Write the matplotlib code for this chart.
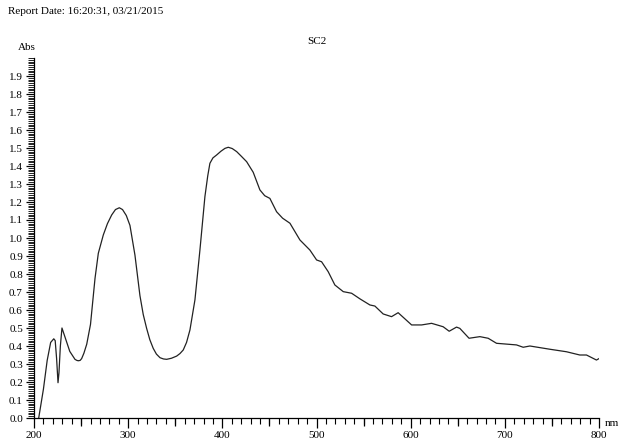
import matplotlib
matplotlib.use("Agg")
import matplotlib.pyplot as plt
from matplotlib.ticker import MultipleLocator, FormatStrFormatter

plt.rcParams['font.family'] = ['Liberation Serif', 'DejaVu Serif']

# spectrum (wavelength in nm, absorbance)
wavelength = [205, 210, 214, 217.7, 221, 222.5, 224, 225.5, 226.5, 228, 229.7,
              232.9, 238, 243.5, 245.5, 247, 249, 250.6, 253, 256, 260, 264.8,
              268.3, 273.6, 278, 282.5, 286.5, 290.6, 294, 298, 301.9, 307.2,
              312.5, 316, 319.6, 323, 326.6, 330, 333.8, 337.5, 340.9, 346,
              351.5, 355, 358.5, 362, 365.6, 370.9, 376.2, 381.5, 384.5, 386.8,
              390, 393.9, 398.5, 402.8, 406.3, 410.5, 415.2, 420, 425.8, 432.8,
              439.9, 445, 450.5, 457.6, 464, 471.8, 482.4, 493, 500.1, 505.4,
              512.4, 519.5, 528.4, 537.3, 546.1, 556.7, 562, 570.8, 579.7,
              586.7, 601, 611.6, 622.2, 634.5, 640.9, 648.7, 652.2, 662, 673.5,
              682.3, 691.2, 712.4, 719.5, 726.6, 747.8, 765.5, 779.6, 786.7,
              797.3, 800]
absorbance = [0.0, 0.16, 0.32, 0.42, 0.44, 0.43, 0.33, 0.196, 0.25, 0.40, 0.50,
              0.45, 0.37, 0.326, 0.32, 0.318, 0.32, 0.33, 0.36, 0.41, 0.52,
              0.776, 0.915, 1.017, 1.08, 1.128, 1.158, 1.168, 1.158, 1.125,
              1.07, 0.905, 0.68, 0.575, 0.498, 0.435, 0.387, 0.355, 0.335,
              0.328, 0.326, 0.332, 0.344, 0.358, 0.378, 0.42, 0.489, 0.656,
              0.933, 1.23, 1.345, 1.415, 1.445, 1.461, 1.482, 1.498, 1.504,
              1.497, 1.48, 1.455, 1.424, 1.365, 1.267, 1.235, 1.22, 1.146, 1.11,
              1.082, 0.989, 0.933, 0.878, 0.868, 0.813, 0.739, 0.702, 0.693,
              0.662, 0.628, 0.622, 0.578, 0.563, 0.585, 0.517, 0.517, 0.526,
              0.507, 0.482, 0.505, 0.498, 0.443, 0.452, 0.443, 0.415, 0.406,
              0.393, 0.4, 0.382, 0.368, 0.35, 0.35, 0.322, 0.33]

report_text = "Report Date: 16:20:31, 03/21/2015"
sample_name = "SC2"

fig = plt.figure(figsize=(6.36, 4.46), dpi=100)
ax = fig.add_axes([34 / 636, 28 / 446, 565 / 636, 360 / 446])

ax.plot(wavelength, absorbance, color='#222222', linewidth=0.9,
        solid_joinstyle='round')

ax.set_xlim(200, 800)
ax.set_ylim(0, 2.0)
ax.spines['top'].set_visible(False)
ax.spines['right'].set_visible(False)
ax.spines['left'].set_linewidth(0.9)
ax.spines['bottom'].set_linewidth(0.9)

ax.xaxis.set_major_locator(MultipleLocator(100))
ax.xaxis.set_minor_locator(MultipleLocator(10))
ax.yaxis.set_minor_locator(MultipleLocator(0.01))
ax.set_yticks([i / 10 for i in range(20)])
ax.yaxis.set_major_formatter(FormatStrFormatter('%.1f'))

ax.tick_params(axis='both', which='major', direction='out', labelsize=8,
               width=0.9, pad=2)
ax.tick_params(axis='x', which='major', length=7)
ax.tick_params(axis='x', which='minor', length=4, width=0.8)
ax.tick_params(axis='y', which='major', length=6)
ax.tick_params(axis='y', which='minor', length=4, width=0.6)

# medium ticks at the 50s
sec = ax.secondary_xaxis('bottom')
sec.set_xticks([250, 350, 450, 550, 650, 750])
sec.tick_params(length=5.5, width=0.9, labelbottom=False)
sec.spines['bottom'].set_visible(False)

fig.text(8 / 636, 1 - 12 / 446, report_text, fontsize=8, va='center', ha='left')
ax.set_title(sample_name, fontsize=8, pad=10)
fig.text(27 / 636, 1 - 48 / 446, "Abs", fontsize=8, va='center', ha='center')
fig.text(605 / 636, 1 - 423 / 446, "nm", fontsize=8, va='center', ha='left')

fig.savefig("out.png", dpi=100)
